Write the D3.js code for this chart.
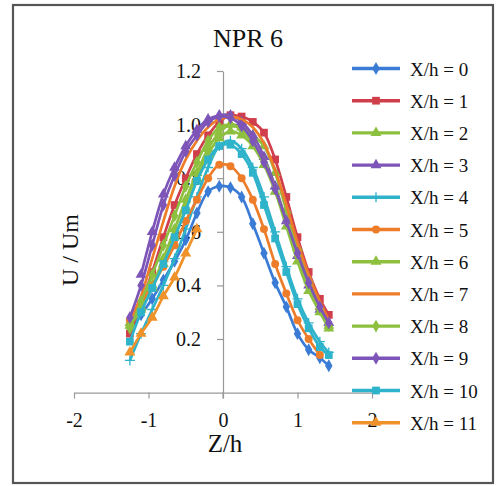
<!DOCTYPE html>
<html>
<head>
<meta charset="utf-8">
<script src="https://cdn.jsdelivr.net/npm/d3@7"></script>
<style>
  body { margin: 0; background: #fff; }
  svg { display: block; }
  svg text { font-family: "Liberation Serif", "Times New Roman", serif; }
</style>
</head>
<body>
<div id="chart"></div>
<script>
// Z/h positions shared by all series
const zValues = [-1.25, -1.1, -0.95, -0.8, -0.65, -0.5, -0.35, -0.2, -0.05, 0.1, 0.25, 0.4, 0.55, 0.7, 0.85, 1.0, 1.15, 1.3, 1.42];

const seriesNames = ["X/h = 0", "X/h = 1", "X/h = 2", "X/h = 3", "X/h = 4", "X/h = 5",
  "X/h = 6", "X/h = 7", "X/h = 8", "X/h = 9", "X/h = 10", "X/h = 11"];

// U/Um per series (null = no measurement)
const u0  = [0.23, 0.29, 0.35, 0.42, 0.49, 0.57, 0.67, 0.75, 0.77, 0.765, 0.73, 0.63, 0.52, 0.41, 0.32, 0.22, 0.16, 0.13, 0.10];
const u1  = [0.22, 0.33, 0.45, 0.58, 0.70, 0.80, 0.89, 0.96, 1.01, 1.035, 1.03, 1.01, 0.97, 0.87, 0.73, 0.58, 0.45, 0.35, 0.29];
const u2  = [0.26, 0.32, 0.40, 0.50, 0.61, 0.72, 0.82, 0.91, 0.97, 1.0, 0.99, 0.96, 0.92, 0.82, 0.68, 0.54, 0.42, 0.32, 0.25];
const u3  = [null, 0.44, 0.60, 0.74, 0.84, 0.92, 0.98, 1.02, 1.035, 1.035, 1.01, 0.96, 0.88, 0.77, 0.64, 0.51, 0.40, 0.31, 0.26];
const u4  = [0.12, 0.22, 0.31, 0.40, 0.50, 0.61, 0.73, 0.84, 0.92, 0.94, 0.91, 0.84, 0.73, 0.60, 0.47, 0.35, 0.26, 0.19, 0.15];
const u5  = [0.27, 0.33, 0.40, 0.47, 0.55, 0.64, 0.72, 0.80, 0.85, 0.845, 0.80, 0.72, 0.61, 0.48, 0.37, 0.27, 0.20, 0.14, null];
const u6  = [0.25, 0.31, 0.39, 0.48, 0.58, 0.69, 0.80, 0.89, 0.95, 0.975, 0.96, 0.92, 0.85, 0.75, 0.62, 0.49, 0.38, 0.30, 0.24];
const u7  = [0.27, 0.36, 0.50, 0.64, 0.77, 0.87, 0.94, 0.99, 1.02, 1.03, 1.02, 0.99, 0.93, 0.83, 0.70, 0.56, 0.44, 0.34, 0.27];
const u8  = [0.24, 0.34, 0.44, 0.55, 0.66, 0.77, 0.86, 0.94, 0.99, 1.0, 0.98, 0.93, 0.86, 0.76, 0.64, 0.51, 0.40, 0.31, 0.25];
const u9  = [0.28, 0.40, 0.55, 0.70, 0.81, 0.90, 0.96, 1.01, 1.03, 1.025, 0.995, 0.94, 0.86, 0.76, 0.64, 0.52, 0.41, 0.32, 0.26];
const u10 = [0.19, 0.30, 0.39, 0.48, 0.58, 0.68, 0.79, 0.87, 0.92, 0.925, 0.89, 0.82, 0.70, 0.575, 0.45, 0.33, 0.24, 0.17, 0.14];
const u11 = [0.15, 0.22, 0.28, 0.36, 0.43, 0.52, 0.61, null, null, null, null, null, null, null, null, null, null, null, null];
const uSeries = [u0, u1, u2, u3, u4, u5, u6, u7, u8, u9, u10, u11];

const seriesColors = ["#3a7bd5", "#d03e4c", "#8dc03f", "#7d55b8", "#2fb3cb", "#ee7d2a",
  "#8dc03f", "#ee7d2a", "#8dc03f", "#7d55b8", "#2fb3cb", "#f0922a"];
const seriesMarkers = ["diamond", "square", "triangle", "triangle", "plus", "circle",
  "triangle", "none", "diamond", "diamond", "square", "triangle"];

const xTicks = [-2, -1, 0, 1, 2];
const yTicks = [0.2, 0.4, 0.6, 0.8, 1.0, 1.2];

const W = 496, H = 486;
const SERIF = "'Liberation Serif', 'Times New Roman', serif";

const svg = d3.select("#chart").append("svg")
  .attr("width", W)
  .attr("height", H)
  .attr("viewBox", `0 0 ${W} ${H}`);

// frame
svg.append("rect")
  .attr("x", 13).attr("y", 5)
  .attr("width", 480).attr("height", 478)
  .attr("fill", "#fff")
  .attr("stroke", "#555")
  .attr("stroke-width", 2.2);

const x = d3.scaleLinear().domain([-2, 2]).range([74, 372]);
const y = d3.scaleLinear().domain([0, 1.2]).range([392.6, 71]);

// Title
svg.append("text")
  .attr("x", 248).attr("y", 47)
  .attr("text-anchor", "middle")
  .style("font-family", SERIF)
  .style("font-size", "26px")
  .style("fill", "#111")
  .text("NPR 6");

// Axes
const yAxis = svg.append("g")
  .attr("transform", `translate(${x(0)},0)`)
  .call(d3.axisLeft(y).tickValues(yTicks).tickFormat(d3.format(".1f"))
    .tickSize(6).tickSizeOuter(0).tickPadding(16));

const xAxis = svg.append("g")
  .attr("transform", `translate(0,${y(0)})`)
  .call(d3.axisBottom(x).tickValues(xTicks).tickFormat(d => String(d))
    .tickSize(6).tickSizeOuter(0).tickPadding(14));

[xAxis, yAxis].forEach(g => {
  g.attr("font-family", null);
  g.selectAll("path, line").attr("stroke", "#999").attr("stroke-width", 1.2);
  g.selectAll("text")
    .style("font-family", SERIF)
    .style("font-size", "20px")
    .attr("fill", "#111");
});

// y axis line continues a bit below x axis
svg.append("line")
  .attr("x1", x(0)).attr("x2", x(0))
  .attr("y1", y(0)).attr("y2", y(0) + 6)
  .attr("stroke", "#999").attr("stroke-width", 1.2);

// Axis titles
svg.append("text")
  .attr("x", 225).attr("y", 452)
  .attr("text-anchor", "middle")
  .style("font-family", SERIF)
  .style("font-size", "25px")
  .style("fill", "#111")
  .text("Z/h");

svg.append("text")
  .attr("transform", "translate(78,250) rotate(-90)")
  .attr("text-anchor", "middle")
  .style("font-family", SERIF)
  .style("font-size", "24px")
  .style("fill", "#111")
  .text("U / Um");

// marker helper
function drawMarker(g, type, color, cx, cy) {
  if (type === "none") return;
  if (type === "plus") {
    g.append("path")
      .attr("d", `M${cx - 5},${cy}H${cx + 5}M${cx},${cy - 5}V${cy + 5}`)
      .attr("stroke", color).attr("stroke-width", 1.3).attr("fill", "none");
    return;
  }
  const sym = {
    diamond: d3.symbolDiamond,
    square: d3.symbolSquare,
    triangle: d3.symbolTriangle,
    circle: d3.symbolCircle
  }[type];
  const size = { diamond: 48, square: 60, triangle: 52, circle: 50 }[type];
  g.append("path")
    .attr("d", d3.symbol(sym, size)())
    .attr("transform", `translate(${cx},${cy})`)
    .attr("fill", color);
}

// Series
const line = d3.line()
  .defined(d => d[1] != null)
  .x(d => x(d[0]))
  .y(d => y(d[1]))
  .curve(d3.curveCatmullRom.alpha(0.5));

const plot = svg.append("g");
uSeries.forEach((vals, i) => {
  const pts = zValues.map((z, k) => [z, vals[k]]);
  const g = plot.append("g");
  g.append("path")
    .attr("d", line(pts))
    .attr("fill", "none")
    .attr("stroke", seriesColors[i])
    .attr("stroke-width", 2.7);
  pts.filter(p => p[1] != null).forEach(p => {
    drawMarker(g, seriesMarkers[i], seriesColors[i], x(p[0]), y(p[1]));
  });
});

// Legend
const legend = svg.append("g");
seriesNames.forEach((name, i) => {
  const cy = 68.5 + i * 32.2;
  const g = legend.append("g");
  g.append("line")
    .attr("x1", 352).attr("x2", 400)
    .attr("y1", cy).attr("y2", cy)
    .attr("stroke", seriesColors[i])
    .attr("stroke-width", 3.4);
  drawMarker(g, seriesMarkers[i], seriesColors[i], 376, cy);
  g.append("text")
    .attr("x", 410).attr("y", cy + 7)
    .style("font-family", SERIF)
    .style("font-size", "19px")
    .style("fill", "#111")
    .text(name);
});
</script>
</body>
</html>
